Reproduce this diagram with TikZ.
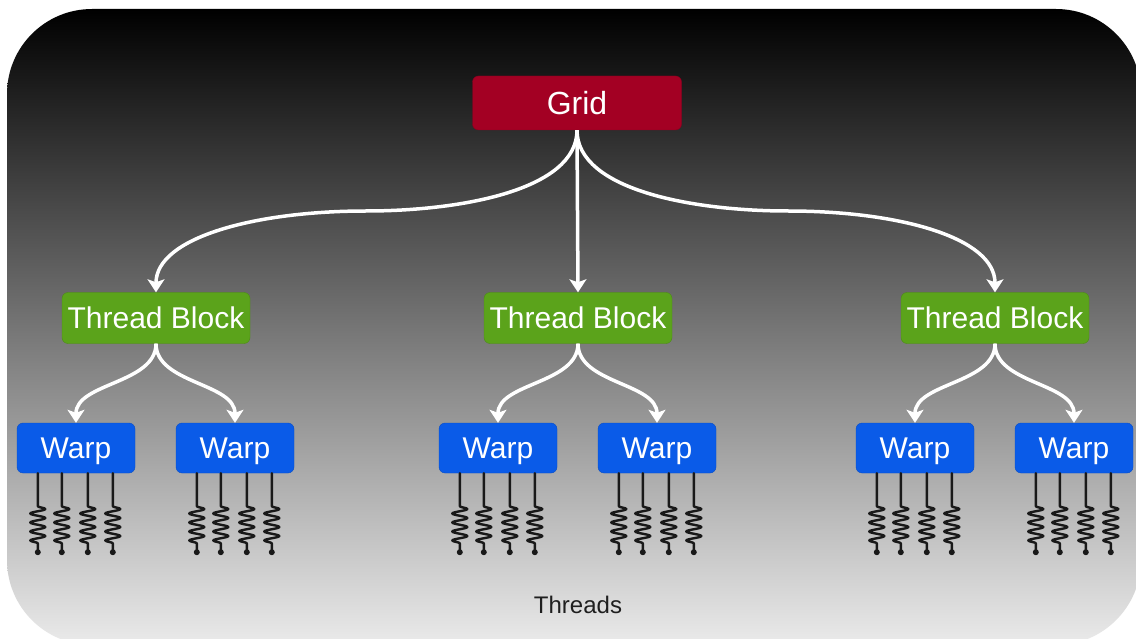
\documentclass[tikz,border=0pt]{standalone}
\usepackage{fontspec}
\setmainfont{Liberation Sans}
\usetikzlibrary{arrows.meta,decorations.pathmorphing}

\definecolor{gridred}{HTML}{A30023}
\definecolor{blockgreen}{HTML}{5BA31B}
\definecolor{warpblue}{HTML}{0A5BE8}

\tikzstyle{box}=[rounded corners=6pt, inner sep=0pt, text=white, font=\fontsize{30}{36}\selectfont, text height=21.5pt, text depth=0pt]
\tikzstyle{gridbox}=[box, fill=gridred, draw=gridred!85!black, minimum width=209pt, minimum height=54pt, font=\fontsize{32}{38}\selectfont, text height=23pt]
\tikzstyle{blockbox}=[box, fill=blockgreen, draw=blockgreen!85!black, minimum width=188pt, minimum height=51pt]
\tikzstyle{warpbox}=[box, fill=warpblue, draw=warpblue!85!black, minimum width=118pt, minimum height=50pt]
\tikzstyle{flow}=[-{Stealth[length=13pt,width=17pt,inset=3pt]}, white, line width=3.5pt]
\tikzstyle{thread}=[black!90, line width=2.4pt, line join=round, line cap=round, decorate, decoration={snake, amplitude=7.5pt, segment length=9pt, pre length=33pt, post length=6pt}]

\begin{document}
\begin{tikzpicture}[x=1pt,y=-1pt]
  \useasboundingbox (0,0) rectangle (1136,639);
  \fill[white] (0,0) rectangle (1136,639);
  \shade[top color=black, bottom color=black!8, rounded corners=85pt] (7,9) rectangle (1141,645);

  \node[gridbox] (grid) at (577,103) {Grid};
  \foreach \x [count=\i] in {156, 578, 995} {%
    \node[blockbox] (tb\i) at (\x,318) {Thread Block};
  }
  \foreach \x [count=\i] in {76, 235, 498, 657, 915, 1074} {%
    \node[warpbox] (w\i) at (\x,448) {Warp};
  }
  \node[text=black!88, font=\fontsize{24}{28}\selectfont] (threads) at (578,605) {Threads};

  % grid to blocks
  \draw[flow] (grid.south) .. controls +(0,60) and +(94,0) .. (366,211)
    .. controls +(-110,0) and +(0,-55) .. (tb1.north);
  \draw[flow] (grid.south) -- (tb2.north);
  \draw[flow] (grid.south) .. controls +(0,60) and +(-94,0) .. (788,211)
    .. controls +(110,0) and +(0,-55) .. (tb3.north);

  % blocks to warps
  \foreach \b/\l/\r in {1/1/2, 2/3/4, 3/5/6} {%
    \draw[flow] (tb\b.south) .. controls +(0,40) and +(0,-40) .. (w\l.north);
    \draw[flow] (tb\b.south) .. controls +(0,40) and +(0,-40) .. (w\r.north);
  }

  % threads
  \foreach \i in {1,...,6}
    \foreach \dx in {21, 45, 71, 96} {%
      \draw[thread] ([xshift=\dx pt]w\i.south west) -- ++(0,79);
      \fill[black!90] ([xshift=\dx pt,yshift=-79pt]w\i.south west) circle (3);
    }
\end{tikzpicture}
\end{document}
